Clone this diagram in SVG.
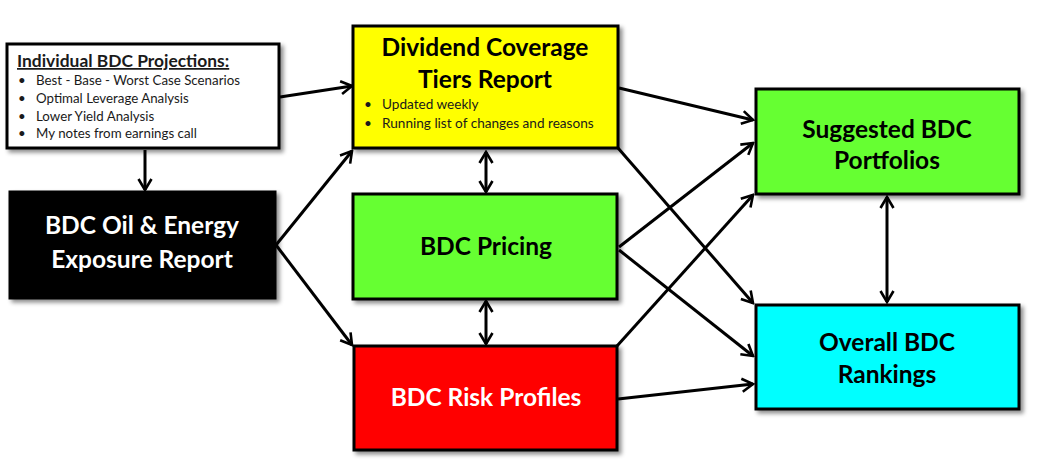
<svg xmlns="http://www.w3.org/2000/svg" width="1037" height="474" viewBox="0 0 1037 474">
<style>
.box{stroke:#000;stroke-width:3;filter:url(#sh)}
.t{font-family:Lato,"Open Sans",sans-serif;font-weight:bold;text-anchor:middle;font-size:24.5px}
.b{font-family:Lato,"Open Sans",sans-serif;fill:#1a1a1a}
.c line{stroke:#000;stroke-width:3;fill:none}
.one{marker-end:url(#ah)}
.two{marker-start:url(#ah);marker-end:url(#ah)}
</style>
<defs>
<filter id="sh" x="-5%" y="-5%" width="115%" height="120%">
<feDropShadow dx="3" dy="3" stdDeviation="2" flood-color="#000" flood-opacity="0.45"/>
</filter>
<marker id="ah" viewBox="-14 -9 16 18" refX="0" refY="0" markerWidth="16" markerHeight="18" markerUnits="userSpaceOnUse" orient="auto-start-reverse">
<path d="M-11,-6.5 L0,0 L-11,6.5" fill="none" stroke="#000" stroke-width="2.6"/>
</marker>
</defs>
<rect width="1037" height="474" fill="#fff"/>

<g class="c" id="connectors">
<line class="one" x1="145" y1="150" x2="145" y2="190"/>
<line class="one" x1="280" y1="97" x2="352" y2="86"/>
<line class="one" x1="276" y1="245" x2="352" y2="151"/>
<line class="one" x1="276" y1="245" x2="352" y2="345"/>
<line class="two" x1="486" y1="152" x2="486" y2="192"/>
<line class="two" x1="486" y1="301" x2="486" y2="344"/>
<line class="one" x1="619" y1="88" x2="753" y2="120"/>
<line class="one" x1="618" y1="148" x2="753" y2="303"/>
<line class="one" x1="619" y1="247" x2="753" y2="143"/>
<line class="one" x1="619" y1="250" x2="753" y2="356"/>
<line class="one" x1="617" y1="346" x2="753" y2="195"/>
<line class="one" x1="618" y1="399" x2="753" y2="384"/>
<line class="two" x1="887" y1="197" x2="887" y2="302"/>
</g>

<g id="projections">
<rect class="box" x="7" y="44" width="272" height="104" fill="#fff"/>
<text class="b" x="17" y="67" font-size="17.4" font-weight="bold" text-decoration="underline" fill="#000">Individual BDC Projections:</text>
<g font-size="13.3" class="b">
<text x="18" y="85">•</text><text x="36" y="85">Best - Base - Worst Case Scenarios</text>
<text x="18" y="103">•</text><text x="36" y="103">Optimal Leverage Analysis</text>
<text x="18" y="121">•</text><text x="36" y="121">Lower Yield Analysis</text>
<text x="18" y="138">•</text><text x="36" y="138">My notes from earnings call</text>
</g>
</g>

<g id="dividend">
<rect class="box" x="353" y="26" width="265" height="122" fill="#ffff00"/>
<text class="t" x="485" y="56">Dividend Coverage</text>
<text class="t" x="485" y="88">Tiers Report</text>
<g font-size="13.6" class="b">
<text x="364" y="109">•</text><text x="382" y="109">Updated weekly</text>
<text x="364" y="128">•</text><text x="382" y="128">Running list of changes and reasons</text>
</g>
</g>

<g id="oil">
<rect class="box" x="10" y="192" width="265" height="106" fill="#000"/>
<text class="t" x="142" y="234" fill="#fff">BDC Oil &amp; Energy</text>
<text class="t" x="142" y="268" fill="#fff">Exposure Report</text>
</g>

<g id="pricing">
<rect class="box" x="353" y="194" width="264" height="105" fill="#66ff33"/>
<text class="t" x="486" y="255">BDC Pricing</text>
</g>

<g id="risk">
<rect class="box" x="354" y="346" width="263" height="104" fill="#ff0000"/>
<text class="t" x="486" y="406" fill="#fff">BDC Risk Profiles</text>
</g>

<g id="suggested">
<rect class="box" x="756" y="89" width="263" height="105" fill="#66ff33"/>
<text class="t" x="887" y="138">Suggested BDC</text>
<text class="t" x="887" y="169">Portfolios</text>
</g>

<g id="rankings">
<rect class="box" x="756" y="305" width="263" height="104" fill="#00ffff"/>
<text class="t" x="887" y="351">Overall BDC</text>
<text class="t" x="887" y="383">Rankings</text>
</g>
</svg>
